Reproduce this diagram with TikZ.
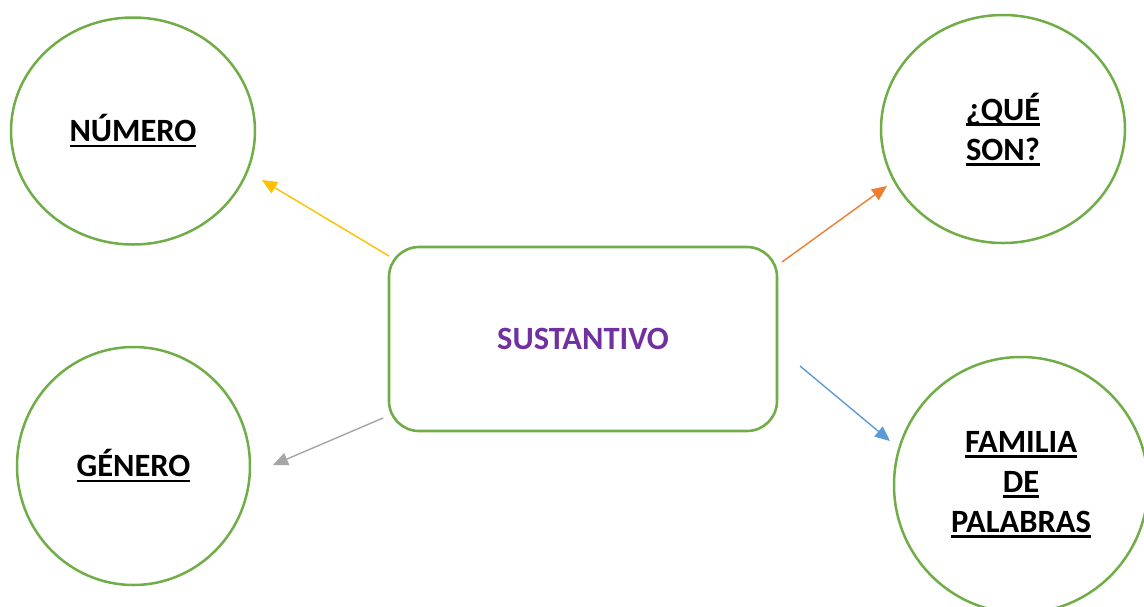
\documentclass[tikz,border=0pt]{standalone}
\usepackage{fontspec}
\setmainfont{Carlito}
\usetikzlibrary{arrows.meta,shapes.geometric}
\definecolor{leafgreen}{HTML}{70AD47}
\definecolor{goldline}{HTML}{FFC000}
\definecolor{orangeline}{HTML}{ED7D31}
\definecolor{grayline}{HTML}{A5A5A5}
\definecolor{blueline}{HTML}{5B9BD5}
\definecolor{titlepurple}{HTML}{7030A0}
\newcommand{\ulword}[1]{\setbox0\hbox{#1}\rlap{\rule[-5.5pt]{\wd0}{2.8pt}}\box0}

\begin{document}
\begin{tikzpicture}
      [x=1pt,y=-1pt,
       topic node/.style={ellipse,draw=leafgreen,line width=2.5pt,inner sep=0pt,align=center,
         font=\fontsize{32.5}{40}\selectfont\bfseries},
       main node/.style={rectangle,rounded corners=30pt,draw=leafgreen,line width=2.6pt,
         minimum width=388pt,minimum height=184pt,text=titlepurple,
         font=\fontsize{32.5}{40}\selectfont\bfseries},
       link/.style={line width=1.4pt,-{Triangle[length=15pt,width=13pt]}}]
        \useasboundingbox (0,0) rectangle (1144,606);

        \node[main node] (sust) at (583,339) {SUSTANTIVO};
        \node[topic node,minimum width=244pt,minimum height=227pt] (numero) at (133,131) {\ulword{NÚMERO}};
        \node[topic node,minimum width=233pt,minimum height=238pt] (genero) at (133.5,466) {\ulword{GÉNERO}};
        \node[topic node,minimum width=244pt,minimum height=228pt] (que) at (1003,129) {\rule{0pt}{14pt}\\[-26pt]\ulword{¿QUÉ}\\\ulword{SON?}};
        \node[topic node,minimum width=254pt,minimum height=256pt] (familia) at (1021,485) {\ulword{FAMILIA}\\\ulword{DE}\\\ulword{PALABRAS}};

        \coordinate (a1) at (389,256);
        \coordinate (a2) at (262,180);
        \coordinate (b1) at (782,262);
        \coordinate (b2) at (887,186);
        \coordinate (c1) at (383,418);
        \coordinate (c2) at (273,465);
        \coordinate (d1) at (800,366);
        \coordinate (d2) at (890,441);

        \draw[link,goldline] (a1) -- (a2);
        \draw[link,orangeline] (b1) -- (b2);
        \draw[link,grayline] (c1) -- (c2);
        \draw[link,blueline] (d1) -- (d2);

      \end{tikzpicture}
\end{document}
